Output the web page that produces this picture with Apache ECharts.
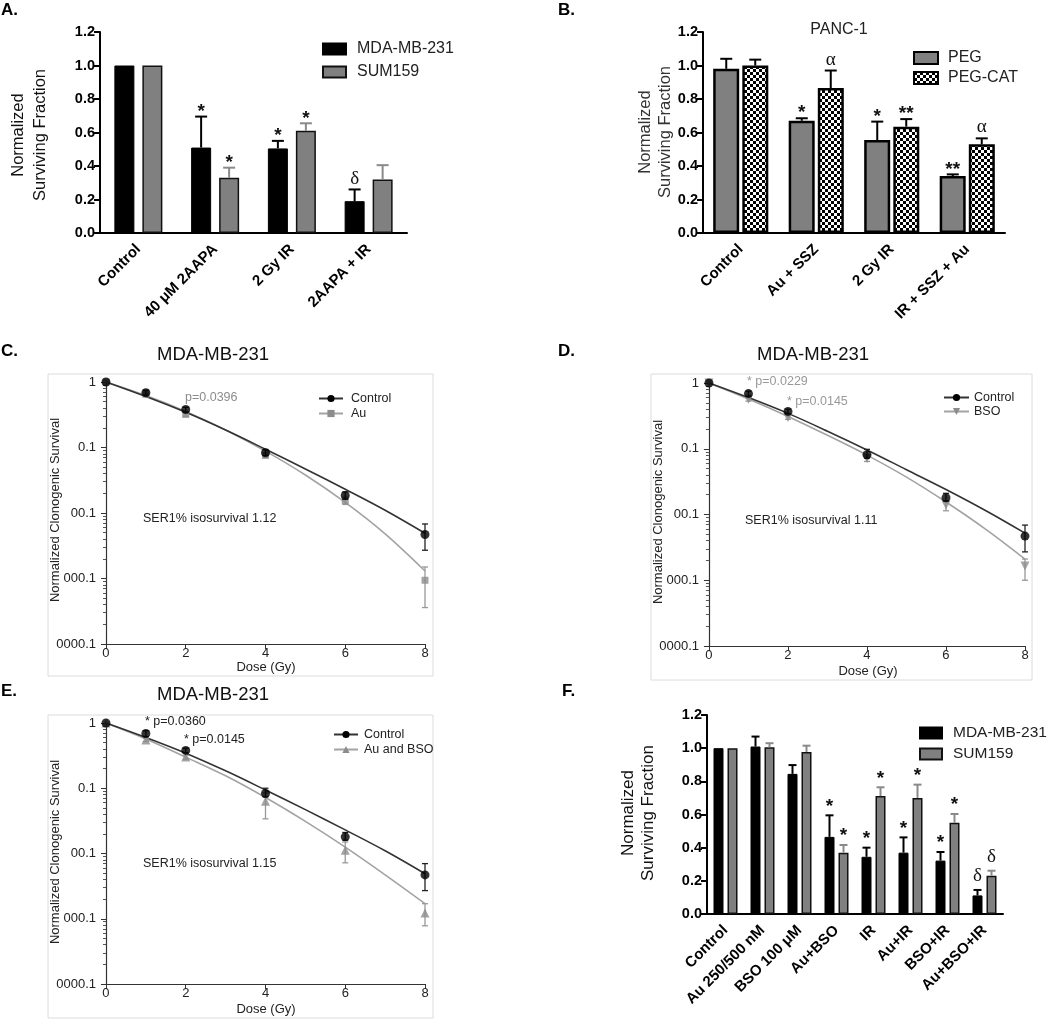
<!DOCTYPE html>
<html><head><meta charset="utf-8">
<script src="https://cdn.jsdelivr.net/npm/echarts@6/dist/echarts.min.js"></script>
<style>html,body{margin:0;padding:0;background:#fff}#c{width:1050px;height:1020px}</style>
</head><body><div id="c"></div><script>
const FF = "'Liberation Sans', Arial, Helvetica, sans-serif";
const SERIF = "'Liberation Serif', 'DejaVu Serif', serif";

// ---------- Panel A ----------
const catsA = ['Control', '40 \u03bcM 2AAPA', '2 Gy IR', '2AAPA + IR'];
const mdaA = [1.0, 0.51, 0.505, 0.19];
const mdaAErr = [1.0, 0.695, 0.55, 0.26];
const sumA = [1.0, 0.33, 0.61, 0.32];
const sumAErr = [1.0, 0.39, 0.655, 0.405];
const mdaAMarks = ['', '*', '*', '\u03b4'];
const sumAMarks = ['', '*', '*', ''];

// ---------- Panel B ----------
const catsB = ['Control', 'Au + SSZ', '2 Gy IR', 'IR + SSZ + Au'];
const pegB = [0.98, 0.67, 0.555, 0.34];
const pegBErr = [1.04, 0.685, 0.665, 0.35];
const catB = [1.0, 0.865, 0.635, 0.53];
const catBErr = [1.035, 0.97, 0.68, 0.565];
const pegBMarks = ['', '*', '*', '**'];
const catBMarks = ['', '\u03b1', '**', '\u03b1'];

// ---------- Panel F ----------
const catsF = ['Control', 'Au 250/500 nM', 'BSO 100 \u03bcM', 'Au+BSO', 'IR', 'Au+IR', 'BSO+IR', 'Au+BSO+IR'];
const mdaF = [1.0, 1.01, 0.845, 0.465, 0.345, 0.37, 0.322, 0.112];
const mdaFErr = [1.0, 1.07, 0.898, 0.595, 0.40, 0.462, 0.374, 0.145];
const sumF = [1.0, 1.005, 0.977, 0.37, 0.711, 0.70, 0.55, 0.231];
const sumFErr = [1.0, 1.03, 1.015, 0.416, 0.764, 0.78, 0.603, 0.261];
const mdaFMarks = ['', '', '', '*', '*', '*', '*', '\u03b4'];
const sumFMarks = ['', '', '', '*', '*', '*', '*', '\u03b4'];

// ---------- Survival panels C, D, E ----------
const dose = [0, 1, 2, 4, 6, 8];
const fitDose = [0, 1, 2, 3, 4, 5, 6, 7, 8];

const ctrlC = [1, 0.685, 0.38, 0.083, 0.0185, 0.0047];
const ctrlCLo = [1, 0.63, 0.35, 0.076, 0.0162, 0.0027];
const ctrlCHi = [1, 0.75, 0.41, 0.093, 0.021, 0.0068];
const auC = [1, 0.65, 0.32, 0.076, 0.0155, 0.00094];
const auCLo = [1, 0.61, 0.30, 0.070, 0.0135, 0.00036];
const auCHi = [1, 0.69, 0.34, 0.082, 0.0175, 0.0015];
const ctrlFitC = [1, 0.60, 0.345, 0.185, 0.094, 0.047, 0.023, 0.011, 0.0049];
const auFitC = [1, 0.62, 0.355, 0.185, 0.088, 0.038, 0.0145, 0.0048, 0.0013];

const ctrlD = [1, 0.69, 0.37, 0.081, 0.018, 0.0047];
const ctrlDLo = [1, 0.63, 0.34, 0.072, 0.016, 0.0027];
const ctrlDHi = [1, 0.75, 0.40, 0.098, 0.021, 0.0069];
const bsoD = [1, 0.565, 0.30, 0.071, 0.0139, 0.00165];
const bsoDLo = [1, 0.53, 0.28, 0.064, 0.0114, 0.0010];
const bsoDHi = [1, 0.60, 0.32, 0.078, 0.0163, 0.0021];
const ctrlFitD = [1, 0.60, 0.345, 0.185, 0.096, 0.048, 0.024, 0.0115, 0.0052];
const bsoFitD = [1, 0.57, 0.31, 0.16, 0.08, 0.037, 0.0155, 0.006, 0.0021];

const ctrlE = [1, 0.69, 0.38, 0.083, 0.018, 0.0047];
const ctrlELo = [1, 0.62, 0.35, 0.074, 0.016, 0.0027];
const ctrlEHi = [1, 0.76, 0.41, 0.10, 0.021, 0.0070];
const abE = [1, 0.55, 0.30, 0.063, 0.0112, 0.00123];
const abELo = [1, 0.52, 0.28, 0.034, 0.0072, 0.00078];
const abEHi = [1, 0.58, 0.32, 0.085, 0.015, 0.0017];
const ctrlFitE = [1, 0.60, 0.345, 0.185, 0.094, 0.047, 0.023, 0.011, 0.0049];
const abFitE = [1, 0.57, 0.30, 0.155, 0.072, 0.031, 0.0125, 0.0047, 0.0017];

// ---------- tick labels ----------
const barTicks = ['0.0', '0.2', '0.4', '0.6', '0.8', '1.0', '1.2'];
const logTicks = ['1', '0.1', '00.1', '000.1', '0000.1'];
const doseTicks = [0, 2, 4, 6, 8];

// checker pattern for PEG-CAT
const checker = document.createElement('canvas');
checker.width = 6; checker.height = 6;
const ctx = checker.getContext('2d');
ctx.fillStyle = '#fff'; ctx.fillRect(0, 0, 6, 6);
ctx.fillStyle = '#000'; ctx.fillRect(0, 0, 3, 3); ctx.fillRect(3, 3, 3, 3);
const checkerFill = { image: checker, repeat: 'repeat' };

const zip = (xs, a) => xs.map((x, i) => [x, a[i]]);
const zip3 = (xs, a, b) => xs.map((x, i) => [x, a[i], b[i]]);

function markStyle(m, cx, ty, gap) {
  const isStar = m.indexOf('*') >= 0;
  return {
    type: 'text',
    style: {
      text: m, x: cx, y: ty - gap + (isStar ? 5 : (m === '\u03b1' ? -1 : 0)),
      align: 'center', verticalAlign: 'middle',
      fontFamily: isStar ? FF : SERIF, fontWeight: isStar ? 'bold' : 'normal',
      fontSize: 19, fill: '#111'
    }
  };
}

function barErr(offset, color, cap, marks, gap) {
  return function (params, api) {
    const i = api.value(0);
    const base = api.coord([i, api.value(1)]);
    const top = api.coord([i, api.value(2)]);
    const cx = base[0] + offset;
    const children = [];
    if (api.value(2) > api.value(1) + 1e-9) {
      children.push({ type: 'line', shape: { x1: cx, y1: base[1], x2: cx, y2: top[1] }, style: { stroke: color, lineWidth: 2 } });
      children.push({ type: 'line', shape: { x1: cx - cap, y1: top[1], x2: cx + cap, y2: top[1] }, style: { stroke: color, lineWidth: 2 } });
    }
    const m = marks[params.dataIndex];
    if (m) children.push(markStyle(m, cx, top[1], gap));
    return { type: 'group', children };
  };
}

function logErr(color, cap) {
  return function (params, api) {
    const x = api.value(0);
    const lo = api.coord([x, api.value(1)]);
    const hi = api.coord([x, api.value(2)]);
    if (Math.abs(lo[1] - hi[1]) < 0.5) return { type: 'group', children: [] };
    const st = { stroke: color, lineWidth: 1.3 };
    return { type: 'group', children: [
      { type: 'line', shape: { x1: lo[0], y1: lo[1], x2: hi[0], y2: hi[1] }, style: st },
      { type: 'line', shape: { x1: lo[0] - cap, y1: lo[1], x2: lo[0] + cap, y2: lo[1] }, style: st },
      { type: 'line', shape: { x1: hi[0] - cap, y1: hi[1], x2: hi[0] + cap, y2: hi[1] }, style: st }
    ] };
  };
}

function barX(gi, cats) {
  return { type: 'category', gridIndex: gi, data: cats,
    axisLine: { lineStyle: { color: '#000', width: 2 } },
    axisTick: { alignWithLabel: true, length: 6, lineStyle: { color: '#000', width: 2 } },
    axisLabel: { interval: 0, rotate: 45, color: '#000', fontWeight: 'bold', fontSize: 15, fontFamily: FF, margin: 14 } };
}
function barY(gi) {
  return { type: 'value', gridIndex: gi, min: 0, max: 1.2, interval: 0.2,
    axisLine: { show: true, lineStyle: { color: '#000', width: 2 } },
    axisTick: { show: true, length: 6, lineStyle: { color: '#000', width: 2 } },
    splitLine: { show: false },
    axisLabel: { color: '#000', fontWeight: 'bold', fontSize: 14.5, fontFamily: FF, margin: 5,
      formatter: v => barTicks[Math.round(v / 0.2)] } };
}
function doseX(gi) {
  return { type: 'value', gridIndex: gi, min: -0.1, max: 8,
    axisLine: { lineStyle: { color: '#333', width: 1.2 } },
    axisTick: { show: true, customValues: doseTicks, length: 5, lineStyle: { color: '#333' } },
    axisLabel: { customValues: doseTicks, color: '#222', fontSize: 13, fontFamily: FF, margin: 3 },
    splitLine: { show: false } };
}
function survY(gi) {
  return { type: 'log', logBase: 10, gridIndex: gi, min: 0.0001, max: 1,
    axisLine: { show: true, lineStyle: { color: '#333', width: 1.2 } },
    axisTick: { show: true, length: 5, lineStyle: { color: '#333' } },
    minorTick: { show: true, splitNumber: 9, length: 3, lineStyle: { color: '#555' } },
    splitLine: { show: false }, minorSplitLine: { show: false },
    axisLabel: { color: '#222', fontSize: 13, fontFamily: FF, margin: 6,
      formatter: v => logTicks[Math.round(-Math.log10(v))] } };
}

function survSeries(ai, name2, pts1, lo1, hi1, fit1, pts2, lo2, hi2, fit2, sym2, rot2) {
  return [
    { type: 'line', name: 'Control', xAxisIndex: ai, yAxisIndex: ai, data: zip(fitDose, fit1), smooth: 0.35,
      showSymbol: false, symbol: 'circle', symbolSize: 8, color: '#000',
      lineStyle: { color: '#333', width: 1.6 }, itemStyle: { color: '#000' }, z: 3 },
    { type: 'line', name: name2, xAxisIndex: ai, yAxisIndex: ai, data: zip(fitDose, fit2), smooth: 0.35,
      showSymbol: false, symbol: sym2, symbolRotate: rot2, symbolSize: 7, color: '#8c8c8c',
      lineStyle: { color: '#a3a3a3', width: 1.6 }, itemStyle: { color: '#8c8c8c' }, z: 2 },
    { type: 'custom', xAxisIndex: ai, yAxisIndex: ai, renderItem: logErr('#999', 3), data: zip3(dose, lo2, hi2), z: 4 },
    { type: 'scatter', xAxisIndex: ai, yAxisIndex: ai, data: zip(dose, pts2), symbol: sym2, symbolRotate: rot2, symbolSize: sym2 === 'rect' ? 7 : 9,
      itemStyle: { color: '#8c8c8c' }, z: 5 },
    { type: 'custom', xAxisIndex: ai, yAxisIndex: ai, renderItem: logErr('#222', 3), data: zip3(dose, lo1, hi1), z: 6 },
    { type: 'scatter', xAxisIndex: ai, yAxisIndex: ai, data: zip(dose, pts1), symbol: 'circle', symbolSize: 9,
      itemStyle: { color: '#000' }, z: 7 }
  ];
}

function T(text, x, y, o = {}) {
  return { type: 'text', x, y, rotation: o.rot || 0, z: 50,
    style: { text, fill: o.color || '#222', fontSize: o.size || 13, fontFamily: o.family || FF,
      fontWeight: o.weight || 'normal', align: o.align || 'left', verticalAlign: 'middle',
      lineHeight: o.lh || undefined } };
}
function box(x, y, w, h) {
  return { type: 'rect', shape: { x, y, width: w, height: h }, style: { fill: 'none', stroke: '#dcdcdc', lineWidth: 1 }, z: 0 };
}
const R = Math.PI / 2;

const option = {
  animation: false,
  backgroundColor: '#fff',
  textStyle: { fontFamily: FF },
  grid: [
    { left: 100, top: 32, width: 307, height: 201 },
    { left: 703, top: 32, width: 302, height: 201 },
    { left: 102, top: 382, width: 323, height: 262 },
    { left: 705, top: 383, width: 320, height: 263 },
    { left: 102, top: 723, width: 323, height: 261 },
    { left: 707, top: 715, width: 296, height: 199 }
  ],
  xAxis: [barX(0, catsA), barX(1, catsB), doseX(2), doseX(3), doseX(4), barX(5, catsF)],
  yAxis: [barY(0), barY(1), survY(2), survY(3), survY(4), barY(5)],
  legend: [
    { left: 317, top: 36, orient: 'vertical', data: ['MDA-MB-231', 'SUM159'], icon: 'rect', itemWidth: 23, itemHeight: 11, itemGap: 7,
      textStyle: { fontSize: 16, color: '#222', fontFamily: FF, padding: [0, 0, 0, 6] } },
    { left: 908, top: 45, orient: 'vertical', data: ['PEG', 'PEG-CAT'], icon: 'rect', itemWidth: 24, itemHeight: 12, itemGap: 4,
      textStyle: { fontSize: 16, color: '#222', fontFamily: FF, padding: [0, 0, 0, 5] } },
    { left: 313, top: 387, orient: 'vertical', data: ['Control', 'Au'], itemWidth: 24, itemHeight: 9, itemGap: 2,
      textStyle: { fontSize: 12.5, color: '#222', fontFamily: FF, padding: [0, 0, 0, 3] } },
    { left: 938, top: 386, orient: 'vertical', data: ['Control', 'BSO'], itemWidth: 25, itemHeight: 9, itemGap: 1,
      textStyle: { fontSize: 12.5, color: '#222', fontFamily: FF, padding: [0, 0, 0, 0] } },
    { left: 328, top: 723, orient: 'vertical', data: ['Control', 'Au and BSO'], itemWidth: 24, itemHeight: 9, itemGap: 2,
      textStyle: { fontSize: 12.5, color: '#222', fontFamily: FF, padding: [0, 0, 0, 1] } },
    { left: 914, top: 720, orient: 'vertical', data: ['MDA-MB-231', 'SUM159'], icon: 'rect', itemWidth: 22, itemHeight: 11, itemGap: 5,
      textStyle: { fontSize: 15.5, color: '#222', fontFamily: FF, padding: [0, 0, 0, 6] } }
  ],
  series: [
    // A
    { type: 'bar', name: 'MDA-MB-231', xAxisIndex: 0, yAxisIndex: 0, data: mdaA, barWidth: 20, barGap: '40%',
      itemStyle: { color: '#000', borderColor: '#000', borderWidth: 1 } },
    { type: 'bar', name: 'SUM159', xAxisIndex: 0, yAxisIndex: 0, data: sumA, barWidth: 20, barGap: '40%',
      itemStyle: { color: '#808080', borderColor: '#111', borderWidth: 1.5 } },
    { type: 'custom', xAxisIndex: 0, yAxisIndex: 0, renderItem: barErr(-14, '#000', 6, mdaAMarks, 10), data: zip3(mdaA.map((v, i) => i), mdaA, mdaAErr), z: 5 },
    { type: 'custom', xAxisIndex: 0, yAxisIndex: 0, renderItem: barErr(14, '#8a8a8a', 6, sumAMarks, 10), data: zip3(sumA.map((v, i) => i), sumA, sumAErr), z: 5 },
    // B
    { type: 'bar', name: 'PEG', xAxisIndex: 1, yAxisIndex: 1, data: pegB, barWidth: 26, barGap: '12%',
      itemStyle: { color: '#808080', borderColor: '#000', borderWidth: 2.5 } },
    { type: 'bar', name: 'PEG-CAT', xAxisIndex: 1, yAxisIndex: 1, data: catB, barWidth: 26, barGap: '12%',
      itemStyle: { color: checkerFill, borderColor: '#000', borderWidth: 2.5 } },
    { type: 'custom', xAxisIndex: 1, yAxisIndex: 1, renderItem: barErr(-14.5, '#000', 6, pegBMarks, 10), data: zip3(pegB.map((v, i) => i), pegB, pegBErr), z: 5 },
    { type: 'custom', xAxisIndex: 1, yAxisIndex: 1, renderItem: barErr(14.5, '#000', 6, catBMarks, 10), data: zip3(catB.map((v, i) => i), catB, catBErr), z: 5 },
    // C, D, E
    ...survSeries(2, 'Au', ctrlC, ctrlCLo, ctrlCHi, ctrlFitC, auC, auCLo, auCHi, auFitC, 'rect', 0),
    ...survSeries(3, 'BSO', ctrlD, ctrlDLo, ctrlDHi, ctrlFitD, bsoD, bsoDLo, bsoDHi, bsoFitD, 'triangle', 180),
    ...survSeries(4, 'Au and BSO', ctrlE, ctrlELo, ctrlEHi, ctrlFitE, abE, abELo, abEHi, abFitE, 'triangle', 0),
    // F
    { type: 'bar', name: 'MDA-MB-231', xAxisIndex: 5, yAxisIndex: 5, data: mdaF, barWidth: 10, barGap: '40%',
      itemStyle: { color: '#000', borderColor: '#000', borderWidth: 1 } },
    { type: 'bar', name: 'SUM159', xAxisIndex: 5, yAxisIndex: 5, data: sumF, barWidth: 10, barGap: '40%',
      itemStyle: { color: '#808080', borderColor: '#111', borderWidth: 1.5 } },
    { type: 'custom', xAxisIndex: 5, yAxisIndex: 5, renderItem: barErr(-7, '#000', 4, mdaFMarks, 14), data: zip3(mdaF.map((v, i) => i), mdaF, mdaFErr), z: 5 },
    { type: 'custom', xAxisIndex: 5, yAxisIndex: 5, renderItem: barErr(7, '#8a8a8a', 4, sumFMarks, 14), data: zip3(sumF.map((v, i) => i), sumF, sumFErr), z: 5 }
  ],
  graphic: [
    box(48, 374, 385, 302), box(651, 374, 381, 306), box(48, 715, 385, 303),
    T('A.', 1, 10, { size: 17, weight: 'bold', color: '#000' }),
    T('B.', 558, 10, { size: 17, weight: 'bold', color: '#000' }),
    T('C.', 1, 351, { size: 17, weight: 'bold', color: '#000' }),
    T('D.', 558, 351, { size: 17, weight: 'bold', color: '#000' }),
    T('E.', 1, 691, { size: 17, weight: 'bold', color: '#000' }),
    T('F.', 562, 691, { size: 17, weight: 'bold', color: '#000' }),
    T('PANC-1', 839, 30, { size: 16, align: 'center' }),
    T('MDA-MB-231', 213, 355, { size: 18.5, align: 'center', color: '#111' }),
    T('MDA-MB-231', 813, 355, { size: 18.5, align: 'center', color: '#111' }),
    T('MDA-MB-231', 213, 695, { size: 18.5, align: 'center', color: '#111' }),
    T('Normalized\nSurviving Fraction', 29, 135, { size: 16.5, align: 'center', rot: R, lh: 22, color: '#111' }),
    T('Normalized\nSurviving Fraction', 655, 132, { size: 16.5, align: 'center', rot: R, lh: 20, color: '#333' }),
    T('Normalized\nSurviving Fraction', 638, 813, { size: 17, align: 'center', rot: R, lh: 20, color: '#111' }),
    T('Normalized Clonogenic Survival', 55, 510, { size: 13, align: 'center', rot: R }),
    T('Normalized Clonogenic Survival', 658, 512, { size: 13, align: 'center', rot: R }),
    T('Normalized Clonogenic Survival', 55, 852, { size: 13, align: 'center', rot: R }),
    T('Dose (Gy)', 266, 667, { size: 13, align: 'center' }),
    T('Dose (Gy)', 868, 671, { size: 13, align: 'center' }),
    T('Dose (Gy)', 266, 1009, { size: 13, align: 'center' }),
    T('p=0.0396', 185, 398, { size: 12.5, color: '#8c8c8c' }),
    T('* p=0.0229', 747, 382, { size: 12.5, color: '#999' }),
    T('* p=0.0145', 787, 402, { size: 12.5, color: '#999' }),
    T('* p=0.0360', 145, 722, { size: 12.5, color: '#222' }),
    T('* p=0.0145', 184, 740, { size: 12.5, color: '#222' }),
    T('SER1% isosurvival 1.12', 143, 519, { size: 12.5 }),
    T('SER1% isosurvival 1.11', 745, 521, { size: 12.5 }),
    T('SER1% isosurvival 1.15', 143, 864, { size: 12.5 })
  ]
};

const chart = echarts.init(document.getElementById('c'), null, { renderer: 'canvas', width: 1050, height: 1020 });
chart.setOption(option);
</script></body></html>
